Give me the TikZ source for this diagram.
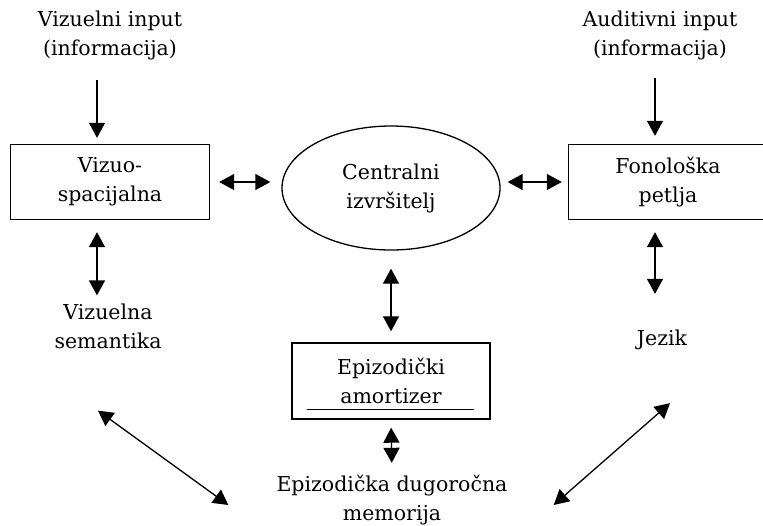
\documentclass[tikz,border=0pt]{standalone}
\usepackage{fontspec}
\setmainfont{DejaVu Serif}
\usetikzlibrary{arrows.meta,shapes.geometric}

\begin{document}
\begin{tikzpicture}[x=1pt, y=-1pt,
  every node/.style={font=\fontsize{20.5}{29}\selectfont, align=center, inner sep=0pt},
  box/.style={draw, line width=1.4pt, minimum width=199pt, minimum height=75pt},
  arr/.style={line width=1.3pt, -{Triangle[length=15pt,width=16pt]}},
  darr/.style={line width=1.3pt, {Triangle[length=15pt,width=16pt]}-{Triangle[length=15pt,width=16pt]}}]
  \useasboundingbox (0,0) rectangle (763,525);
  \node (visin) at (110,35) {Vizuelni input\\(informacija)};
  \node (audin) at (660,35) {Auditivni input\\(informacija)};
  \node[box] (vizuo) at (110,182) {Vizuo-\\spacijalna};
  \node[draw, ellipse, line width=1.3pt, minimum width=218pt, minimum height=124pt] (ce) at (391,188) {Centralni\\izvršitelj};
  \node[box] (fon) at (668,182) {Fonološka\\petlja};
  \node (vsem) at (108,326) {Vizuelna\\semantika};
  \node (jezik) at (662,340) {Jezik};
  \node[box, minimum width=198pt, minimum height=76pt] (epiz) at (391,381) {Epizodički\\amortizer};
  \node (ltm) at (392,500) {Epizodička dugoročna\\memorija};
  \coordinate (lx) at (97,0);
  \coordinate (rx) at (655,0);
  \draw[arr, shorten <=20pt, shorten >=6pt] (lx |- visin.south) -- (lx |- vizuo.north);
  \draw[arr, shorten <=18pt, shorten >=8pt] (rx |- audin.south) -- (rx |- fon.north);
  \draw[darr, shorten <=9pt, shorten >=11pt] (vizuo.east) -- (vizuo.east -| ce.west);
  \draw[darr, shorten <=7pt, shorten >=6pt] (fon.west -| ce.east) -- (fon.west);
  \draw[darr, shorten <=12pt, shorten >=8pt] (lx |- vizuo.south) -- (lx |- vsem.north);
  \draw[darr, shorten <=12pt, shorten >=36pt] (rx |- fon.south) -- (rx |- jezik.north);
  \draw[darr, shorten <=18pt, shorten >=11pt] (ce.south) -- (epiz.north);
  \draw[darr, shorten <=8pt, shorten >=12pt] (epiz.south) -- (ltm.north);
  \draw[darr] ([shift={(-10pt,-62pt)}]vsem.south) -- ([shift={(-48pt,-5pt)}]ltm.west);
  \draw[darr] ([shift={(8pt,-53pt)}]jezik.south) -- ([shift={(46pt,-5pt)}]ltm.east);
  \draw[line width=1.1pt] ([shift={(16pt,10pt)}]epiz.south west) -- ([shift={(-17pt,10pt)}]epiz.south east);
\end{tikzpicture}
\end{document}
